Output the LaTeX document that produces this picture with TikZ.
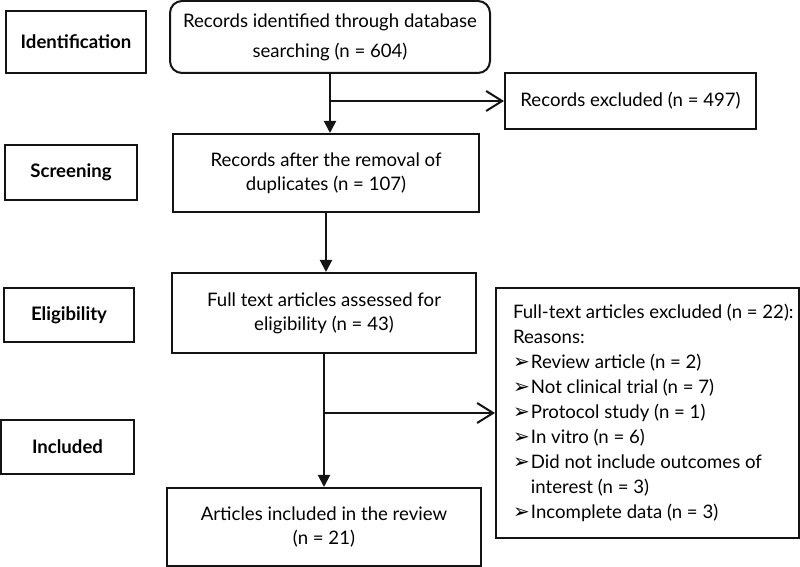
\documentclass[tikz,border=0pt]{standalone}
\usepackage{fontspec}
\setmainfont{Lato}
\newfontfamily\dingfont{DejaVu Sans}
\usetikzlibrary{arrows.meta}
\definecolor{prismaline}{RGB}{20,20,20}
\newcommand{\reasonmark}{\makebox[9pt][l]{\fontsize{10}{12}\selectfont\dingfont\char"27A2}}

\begin{document}
\begin{tikzpicture}[
    x=0.5pt, y=-0.5pt,
    line width=1pt,
    draw=prismaline,
    every node/.style={font=\fontsize{9.3}{12}\selectfont},
    stagebox/.style={draw=prismaline, font=\fontsize{9.3}{12}\selectfont\bfseries, inner sep=0pt},
    flowbox/.style={draw=prismaline, align=center, inner sep=0pt},
    flowarrow/.style={draw=prismaline, -{Triangle[width=6pt,length=6pt]}},
    sidearrow/.style={draw=prismaline, -{Straight Barb[width=10pt,length=8pt]}}
]
\useasboundingbox (0,0) rectangle (800,567);

% stage labels
\node[stagebox, minimum width=70pt, minimum height=31pt] (identlab) at (76,42) {Identification};
\node[stagebox, minimum width=66pt, minimum height=27.5pt] (screenlab) at (71,172.5) {Screening};
\node[stagebox, minimum width=65pt, minimum height=27pt] (eliglab) at (69,315) {Eligibility};
\node[stagebox, minimum width=66.5pt, minimum height=27pt] (incllab) at (67.5,447) {Included};

% flow
\node[flowbox, rounded corners=6pt, minimum width=160pt, minimum height=36pt] (found) at (330,37)
    {Records identified through database\\[3pt]searching (n = 604)};
\node[flowbox, minimum width=125.5pt, minimum height=28pt] (excluded) at (630.5,101)
    {Records excluded (n = 497)};
\node[flowbox, minimum width=153pt, minimum height=39pt] (dedup) at (326,173)
    {Records after the removal of\\duplicates (n = 107)};
\node[flowbox, minimum width=152pt, minimum height=40pt] (fulltext) at (324,313)
    {Full text articles assessed for\\eligibility (n = 43)};
\node[flowbox, minimum width=151.5pt, minimum height=125pt] (ftexcluded) at (647.5,413) {};
\node[anchor=west, align=left, inner sep=0pt, font=\fontsize{9.3}{12.5}\selectfont] (reasons)
    at ([xshift=8.5pt]ftexcluded.west) {%
    Full-text articles excluded (n = 22):\\
    Reasons:\\
    \reasonmark Review article (n = 2)\\
    \reasonmark Not clinical trial (n = 7)\\
    \reasonmark Protocol study (n = 1)\\
    \reasonmark In vitro (n = 6)\\
    \reasonmark Did not include outcomes of\\
    \hspace*{9pt}interest (n = 3)\\
    \reasonmark Incomplete data (n = 3)};
\node[flowbox, minimum width=157pt, minimum height=39pt] (included) at (324,527)
    {Articles included in the review\\(n = 21)};

% connectors
\draw[flowarrow] (found.south) -- (found.south |- dedup.north);
\coordinate (split1) at (found.south |- excluded.west);
\draw[sidearrow] (split1) -- (excluded.west);
\draw[flowarrow] (dedup.south) -- (dedup.south |- fulltext.north);
\draw[flowarrow] (fulltext.south) -- (fulltext.south |- included.north);
\coordinate (split2) at (fulltext.south |- ftexcluded.west);
\draw[sidearrow] (split2) -- (ftexcluded.west);
\end{tikzpicture}
\end{document}
